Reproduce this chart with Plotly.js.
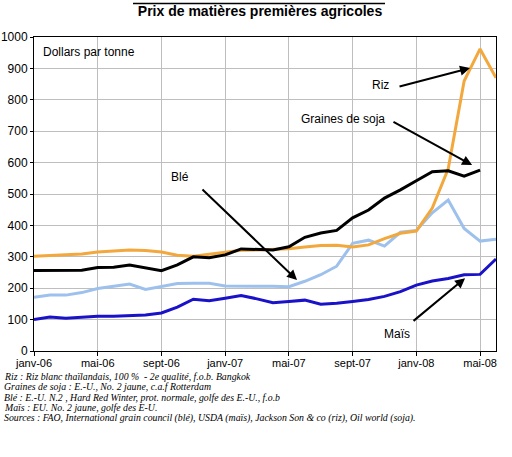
<!DOCTYPE html>
<html>
<head>
<meta charset="utf-8">
<script src="https://cdn.plot.ly/plotly-3.0.1.min.js"></script>
<style>
  html, body { margin: 0; padding: 0; background: #ffffff; }
  #chart { width: 512px; height: 457px; }
</style>
</head>
<body>
<div id="chart"></div>
<script>
// ---- Data (US$ per tonne) ----
const months = [
  'janv-06','févr-06','mars-06','avr-06','mai-06','juin-06','juil-06','août-06','sept-06','oct-06','nov-06','déc-06',
  'janv-07','févr-07','mars-07','avr-07','mai-07','juin-07','juil-07','août-07','sept-07','oct-07','nov-07','déc-07',
  'janv-08','févr-08','mars-08','avr-08','mai-08','juin-08'
];
const tickLabels = ['janv-06','mai-06','sept-06','janv-07','mai-07','sept-07','janv-08','mai-08'];

const riz = [302,305,308,309,315,318,322,320,315,305,302,308,
             315,321,322,324,326,331,336,337,331,338,358,375,
             382,455,580,860,962,870];
const soja = [256,256,256,257,266,267,274,265,256,274,300,297,
              306,325,323,322,332,362,376,384,424,449,487,513,
              542,571,574,557,576];
const ble = [171,178,178,186,199,206,213,196,206,215,216,216,
             207,207,208,206,205,222,243,270,343,353,334,378,
             384,440,481,390,350,356];
const mais = [100,108,104,108,111,111,114,115,121,140,165,160,
              168,177,166,154,158,162,149,152,158,164,174,189,
              210,223,231,243,244,293];

const seriesNames = ['Riz','Graines de soja','Blé','Maïs'];

const footnotes = [
  'Riz : Riz blanc thaïlandais, 100 %  - 2e qualité, f.o.b. Bangkok',
  'Graines de soja : E.-U., No. 2 jaune, c.a.f Rotterdam',
  'Blé : E.-U. N.2 , Hard Red Winter, prot. normale, golfe des E.-U., f.o.b',
  'Maïs : EU. No. 2 jaune, golfe des E-U.',
  'Sources : FAO, International grain council (blé), USDA (maïs), Jackson Son &amp; co (riz), Oil world (soja).'
];

// ---- Layout geometry ----
const W = 512, H = 457;
const M = {l: 34, r: 16, t: 37, b: 106};
const plotH = H - M.t - M.b;
const plotW = W - M.l - M.r;
const pyToPaper = py => (H - M.b - py) / plotH;
const pxToPaper = px => (px - M.l) / plotW;

const SANS = 'Liberation Sans, Arial, sans-serif';
const SERIF = 'Liberation Serif, Times New Roman, serif';

const traces = [
  {name: seriesNames[2], y: ble, color: '#9DC1EC'},
  {name: seriesNames[3], y: mais, color: '#1A12C8'},
  {name: seriesNames[0], y: riz, color: '#F2A83C'},
  {name: seriesNames[1], y: soja, color: '#000000'}
].map(s => ({
  type: 'scatter', mode: 'lines', name: s.name,
  x: months.slice(0, s.y.length), y: s.y,
  line: {color: s.color, width: 3}, hoverinfo: 'skip'
}));

const labelFont = {family: SANS, size: 12, color: '#000'};
const annotations = [
  {x: 0.45, y: 952, text: 'Dollars par tonne', xanchor: 'left'},
  {x: 21.72, y: 847, text: seriesNames[0]},
  {x: 19.4, y: 739, text: seriesNames[1]},
  {x: 9.17, y: 554, text: seriesNames[2]},
  {x: 22.79, y: 54, text: seriesNames[3]}
].map(a => Object.assign({xref: 'x', yref: 'y', showarrow: false, xanchor: 'center', yanchor: 'middle', font: labelFont}, a));

// arrows (head x,y ; tail ax,ay) in axis coordinates
[
  {x: 27.37, y: 901, ax: 22.85, ay: 841},
  {x: 27.5, y: 592, ax: 22.47, ay: 732},
  {x: 16.51, y: 226, ax: 10.48, ay: 519},
  {x: 27.06, y: 232, ax: 23.73, ay: 92}
].forEach(a => annotations.push(Object.assign({
  xref: 'x', yref: 'y', axref: 'x', ayref: 'y', text: '', showarrow: true,
  arrowhead: 2, arrowsize: 1, arrowwidth: 2, arrowcolor: '#000'
}, a)));

const footY = [376.5, 386.8, 397, 407.2, 417.5];
footnotes.forEach((t, i) => annotations.push({
  xref: 'paper', yref: 'paper', x: pxToPaper(2), y: pyToPaper(footY[i]),
  xanchor: 'left', yanchor: 'middle', showarrow: false,
  text: '<i>' + t + '</i>', font: {family: SERIF, size: 9.8, color: '#000'}
}));

const layout = {
  width: W, height: H,
  margin: M,
  paper_bgcolor: '#fff', plot_bgcolor: '#fff',
  showlegend: false,
  font: {family: SANS, color: '#000'},
  title: {
    text: '<b>Prix de matières premières agricoles</b>',
    font: {family: SANS, size: 14, color: '#000'},
    xref: 'container', yref: 'container',
    x: 260 / W, y: 1 - 11 / H, xanchor: 'center', yanchor: 'middle'
  },
  xaxis: {
    type: 'category', categoryorder: 'array', categoryarray: months,
    range: [0, months.length - 1],
    tickmode: 'array', tickvals: tickLabels, ticktext: tickLabels,
    ticks: 'outside', ticklen: 4, tickcolor: '#000', tickwidth: 1,
    ticklabelstandoff: -2,
    showgrid: true, gridcolor: '#BEBEBE', gridwidth: 1,
    showline: true, linecolor: '#000', linewidth: 1, mirror: true,
    tickfont: {family: SANS, size: 11, color: '#000'},
    zeroline: false, fixedrange: true
  },
  yaxis: {
    range: [0, 1000], dtick: 100, tick0: 0,
    ticks: 'outside', ticklen: 3, tickcolor: '#000', tickwidth: 1,
    showgrid: true, gridcolor: '#BEBEBE', gridwidth: 1,
    showline: true, linecolor: '#000', linewidth: 1, mirror: true,
    tickfont: {family: SANS, size: 12, color: '#000'},
    zeroline: false, fixedrange: true
  },
  annotations: annotations,
  shapes: [{
    type: 'line', xref: 'paper', yref: 'paper',
    x0: pxToPaper(133), x1: pxToPaper(385), y0: pyToPaper(3.5), y1: pyToPaper(3.5),
    line: {color: '#000', width: 1.5}
  }]
};

Plotly.newPlot('chart', traces, layout, {displayModeBar: false, staticPlot: true});
</script>
</body>
</html>
